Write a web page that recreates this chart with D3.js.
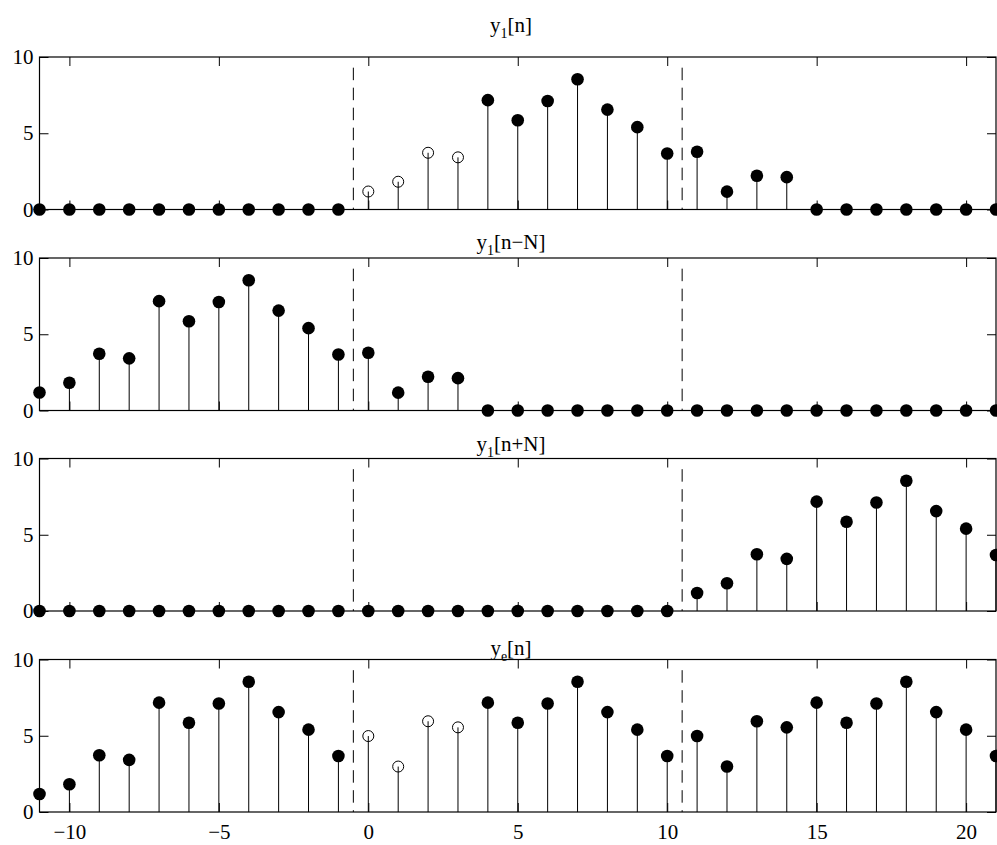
<!DOCTYPE html>
<html>
<head>
<meta charset="utf-8">
<script src="https://cdn.jsdelivr.net/npm/d3@7"></script>
<style>
  html, body { margin: 0; padding: 0; background: #fff; }
  svg { display: block; }
  svg text { font-family: 'Liberation Serif', 'Times New Roman', Times, 'DejaVu Serif', serif !important; fill: #000; }
</style>
</head>
<body>
<svg id="chart" width="997" height="845"></svg>
<script>
// ---- data ----
const nValues = [-11,-10,-9,-8,-7,-6,-5,-4,-3,-2,-1,0,1,2,3,4,5,6,7,8,9,10,11,12,13,14,15,16,17,18,19,20,21];

const y1 = [0,0,0,0,0,0,0,0,0,0,0,
  1.18,1.82,3.72,3.42,7.17,5.85,7.11,8.54,6.55,5.40,3.67,3.79,1.17,2.21,2.12,
  0,0,0,0,0,0,0];

const y1MinusN = [1.18,1.82,3.72,3.42,7.17,5.85,7.11,8.54,6.55,5.40,3.67,3.79,1.17,2.21,2.12,
  0,0,0,0,0,0,0,0,0,0,0,0,0,0,0,0,0,0];

const y1PlusN = [0,0,0,0,0,0,0,0,0,0,0,0,0,0,0,0,0,0,0,0,0,0,
  1.18,1.82,3.72,3.42,7.17,5.85,7.11,8.54,6.55,5.40,3.67];

const ye = [1.18,1.82,3.72,3.42,7.17,5.85,7.11,8.54,6.55,5.40,3.67,
  4.98,2.98,5.95,5.55,7.17,5.85,7.11,8.54,6.55,5.40,3.67,
  4.98,2.98,5.95,5.55,7.17,5.85,7.11,8.54,6.55,5.40,3.67];

// n values drawn with open circles, per panel
const openMarkers = [[0,1,2,3], [], [], [0,1,2,3]];

const titles = [
  {base: "y", sub: "1", rest: "[n]"},
  {base: "y", sub: "1", rest: "[n\u2212N]"},
  {base: "y", sub: "1", rest: "[n+N]"},
  {base: "y", sub: "e", rest: "[n]"}
];
const panels = [y1, y1MinusN, y1PlusN, ye];

const xTicks = [-10,-5,0,5,10,15,20];
const yTicks = [0,5,10];
const periodBoundaries = [-0.5, 10.5];

// ---- layout ----
const FONT = "'Liberation Serif', 'Times New Roman', Times, 'DejaVu Serif', serif";
const svg = d3.select("#chart");
svg.append("rect").attr("width", 997).attr("height", 845).attr("fill", "#fff");

const left = 39.5, right = 996;
const panelTop = [57, 258, 458.5, 659.5];
const panelH = 152.5;
const titleBaseline = [32, 249, 451, 655];
const titleX = 511;

const x = d3.scaleLinear().domain([-11, 21]).range([left, right]);

panels.forEach((vals, i) => {
  const top = panelTop[i], bottom = top + panelH;
  const y = d3.scaleLinear().domain([0, 10]).range([bottom, top]);
  const g = svg.append("g");

  // dashed period boundaries
  periodBoundaries.forEach(b => {
    g.append("line")
      .attr("x1", x(b)).attr("x2", x(b))
      .attr("y1", y(9.3)).attr("y2", y(0))
      .attr("stroke", "#000").attr("stroke-width", 1)
      .attr("stroke-dasharray", "12.5,7.5");
  });

  // axes (inward ticks, box)
  const axB = d3.axisBottom(x).tickValues(xTicks).tickSize(-9).tickPadding(12);
  if (i < 3) axB.tickFormat("");
  const gB = g.append("g").attr("transform", `translate(0,${bottom})`).call(axB);
  const gT = g.append("g").attr("transform", `translate(0,${top})`)
    .call(d3.axisTop(x).tickValues(xTicks).tickSize(-9).tickFormat(""));
  const gL = g.append("g").attr("transform", `translate(${left},0)`)
    .call(d3.axisLeft(y).tickValues(yTicks).tickSize(-9).tickPadding(6));
  const gR = g.append("g").attr("transform", `translate(${right},0)`)
    .call(d3.axisRight(y).tickValues(yTicks).tickSize(-9).tickFormat(""));
  [gB, gT, gL, gR].forEach(a => {
    a.attr("font-family", FONT).attr("font-size", 21);
    a.select(".domain").remove();
    a.selectAll(".tick line").attr("stroke", "#000").attr("stroke-width", 1);
    a.selectAll("text").style("font-family", FONT).style("font-size", "21px").attr("fill", "#000");
  });
  g.append("rect")
    .attr("x", left).attr("y", top)
    .attr("width", right - left).attr("height", panelH)
    .attr("fill", "none").attr("stroke", "#000").attr("stroke-width", 1.2);

  // stems
  const data = nValues.map((n, k) => ({n, v: vals[k], open: openMarkers[i].includes(n)}));
  g.selectAll(".stem").data(data.filter(d => d.v !== 0)).enter().append("line")
    .attr("x1", d => x(d.n)).attr("x2", d => x(d.n))
    .attr("y1", y(0)).attr("y2", d => y(d.v))
    .attr("stroke", "#000").attr("stroke-width", 1);

  // markers
  g.selectAll(".mk").data(data).enter().append("circle")
    .attr("cx", d => x(d.n)).attr("cy", d => y(d.v))
    .attr("r", d => d.open ? 5.5 : 6.3)
    .attr("fill", d => d.open ? "none" : "#000")
    .attr("stroke", "#000").attr("stroke-width", d => d.open ? 1 : 0);

  // title
  const t = svg.append("text")
    .attr("x", titleX).attr("y", titleBaseline[i])
    .attr("text-anchor", "middle")
    .style("font-family", FONT).style("font-size", "21px");
  t.append("tspan").text(titles[i].base);
  t.append("tspan").style("font-size", "14px").attr("dy", 6).text(titles[i].sub);
  t.append("tspan").attr("dy", -6).text(titles[i].rest);
});
</script>
</body>
</html>
